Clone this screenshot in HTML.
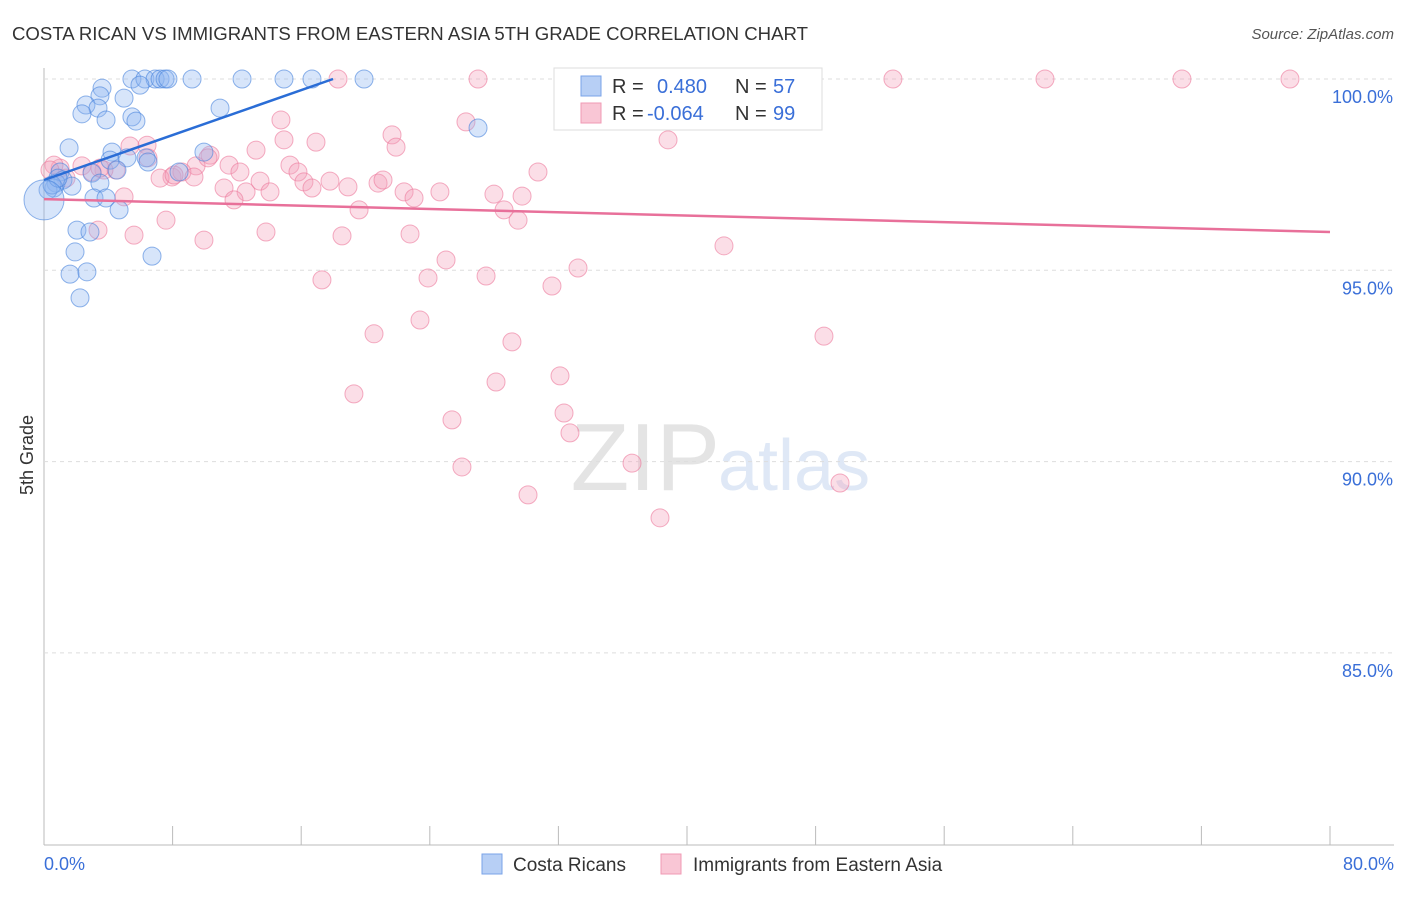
<!DOCTYPE html>
<html><head><meta charset="utf-8"><style>
body{margin:0;background:#fff;font-family:"Liberation Sans",sans-serif}
svg text{font-family:"Liberation Sans",sans-serif}
</style></head><body>
<svg id="c" width="1406" height="892" xmlns="http://www.w3.org/2000/svg">
<text x="12" y="40" font-size="18" fill="#333" textLength="796" lengthAdjust="spacingAndGlyphs">COSTA RICAN VS IMMIGRANTS FROM EASTERN ASIA 5TH GRADE CORRELATION CHART</text>
<text x="1394" y="39" font-size="15" fill="#555" text-anchor="end" font-style="italic">Source: ZipAtlas.com</text>
<text transform="translate(33,455) rotate(-90)" font-size="18" fill="#333" text-anchor="middle">5th Grade</text>
<text x="720" y="490" font-size="96" fill="#e4e4e4" text-anchor="end" font-family="Liberation Serif">ZIP</text>
<text x="718" y="490" font-size="72" fill="#dfe8f6">atlas</text>
<g id="grid"></g><g id="pts"></g><g id="lines"></g>
<g>
<rect x="554" y="68" width="268" height="62" fill="#fff" stroke="#ddd"/>
<rect x="581" y="76" width="20" height="20" fill="#b7cff5" stroke="#7aa3e8"/>
<rect x="581" y="103" width="20" height="20" fill="#f9c6d5" stroke="#f09ab4"/>
<text x="612" y="93" font-size="20" fill="#333">R =</text><text x="657" y="93" font-size="20" fill="#3a6fd8">0.480</text>
<text x="735" y="93" font-size="20" fill="#333">N =</text><text x="773" y="93" font-size="20" fill="#3a6fd8">57</text>
<text x="612" y="120" font-size="20" fill="#333">R =</text><text x="647" y="120" font-size="20" fill="#3a6fd8">-0.064</text>
<text x="735" y="120" font-size="20" fill="#333">N =</text><text x="773" y="120" font-size="20" fill="#3a6fd8">99</text>
</g>
<g>
<rect x="482" y="854" width="20" height="20" fill="#b7cff5" stroke="#7aa3e8"/>
<text x="513" y="871" font-size="19" fill="#333">Costa Ricans</text>
<rect x="661" y="854" width="20" height="20" fill="#f9c6d5" stroke="#f09ab4"/>
<text x="693" y="871" font-size="19" fill="#333">Immigrants from Eastern Asia</text>
</g>
</svg>
<script>
const yTicks=[100,95,90,85];
const yTickLabels=["100.0%","95.0%","90.0%","85.0%"];
const xTickLabels=["0.0%","80.0%"];
const blueX=[5.47,6.28,6.91,7.22,7.53,7.71,9.21,12.32,14.93,16.67,19.91,5.97,3.61,3.48,4.98,2.61,3.36,2.36,3.86,5.47,5.72,10.95,27.0,1.56,4.23,5.16,6.35,6.47,4.11,9.95,8.40,2.99,4.54,1.0,1.18,0.75,0.62,1.74,3.48,3.11,3.86,4.67,2.05,2.86,1.93,6.72,1.62,2.67,2.24,0.25,0.5,0.87,0];
const blueY=[100,100,100,100,100,100,100,100,100,100,100,99.84,99.76,99.56,99.5,99.32,99.24,99.09,98.93,99.01,98.9,99.24,98.72,98.2,98.09,97.94,97.94,97.83,97.88,98.09,97.57,97.54,97.62,97.57,97.36,97.28,97.15,97.2,97.28,96.89,96.89,96.58,96.05,96.0,95.48,95.37,94.9,94.96,94.28,97.1,97.23,97.41,96.84];
const pinkX=[18.29,27.0,38.01,43.17,52.81,62.27,70.79,77.51,38.94,38.82,14.74,21.65,26.25,21.9,16.92,14.93,6.41,5.35,13.19,10.33,11.51,9.46,10.2,12.19,6.47,7.96,8.58,7.22,8.09,4.48,3.73,2.36,1.0,0.62,1.37,2.99,9.33,11.2,12.57,11.82,13.44,14.06,15.3,15.8,16.17,16.67,17.79,18.91,20.78,21.09,22.4,23.02,24.63,27.99,29.74,30.73,28.62,29.49,19.6,4.98,5.6,3.36,7.59,9.95,13.81,18.54,22.77,42.3,25.01,27.5,23.89,17.29,31.6,33.22,23.39,20.53,29.11,48.52,32.1,28.12,19.28,25.38,32.35,32.72,26.0,36.58,49.52,30.11,38.32,0.37,3.48];
const pinkY=[100,100,100,100,100,100,100,100,100,98.41,98.93,98.54,98.88,98.22,98.35,98.41,98.27,98.25,98.14,98.01,97.75,97.73,97.94,97.57,97.94,97.44,97.57,97.41,97.49,97.62,97.62,97.73,97.67,97.75,97.41,97.57,97.44,97.15,97.05,96.84,97.33,97.05,97.75,97.57,97.31,97.15,97.33,97.18,97.28,97.36,97.05,96.89,97.05,96.99,96.94,97.57,96.58,96.31,96.58,96.92,95.92,96.05,96.31,95.79,96.0,95.9,95.95,95.64,95.27,94.85,94.8,94.75,94.59,95.06,93.7,93.34,93.13,93.28,92.24,92.08,91.77,91.09,91.27,90.75,89.86,89.96,89.44,89.13,88.53,97.62,97.67];
const blueTrendX=[0,17.98], blueTrendY=[97.36,100];
const pinkTrendX=[0,80], pinkTrendY=[96.86,96.0];
const NS="http://www.w3.org/2000/svg";
const X=v=>44+v*1286/80, Y=v=>79+(100-v)*38.26;
function mk(t,a,p){const e=document.createElementNS(NS,t);for(const k in a)e.setAttribute(k,a[k]);p.appendChild(e);return e;}
const g=document.getElementById('grid');
let ax=mk('line',{x1:44,y1:68,x2:44,y2:845,stroke:'#bbb'},g);

let bx=mk('line',{x1:44,y1:845,x2:1394,y2:845,stroke:'#bbb'},g);

yTicks.forEach((t,i)=>{const l=mk('line',{x1:44,x2:1394,y1:Y(t),y2:Y(t),stroke:'#ddd','stroke-dasharray':'4,4'},g);

const tx=mk('text',{x:1393,y:Y(t)+24,'font-size':18,fill:'#3a6fd8','text-anchor':'end'},g);tx.textContent=yTickLabels[i];
});
for(let i=0;i<=10;i++){const l=mk('line',{x1:44+i*128.6,x2:44+i*128.6,y1:826,y2:845,stroke:'#bbb'},g);
}
[[0,'start',44],[1,'end',1394]].forEach(([i,a,x])=>{const t=mk('text',{x:x,y:870,'font-size':18,fill:'#3a6fd8','text-anchor':a},g);t.textContent=xTickLabels[i];
});
const p=document.getElementById('pts');
pinkX.forEach((v,i)=>{const c=mk('circle',{cx:X(v),cy:Y(pinkY[i]),r:9,fill:'rgba(244,160,186,0.35)',stroke:'rgba(236,120,155,0.6)'},p);
});
blueX.forEach((v,i)=>{const c=mk('circle',{cx:X(v),cy:Y(blueY[i]),r:i==blueX.length-1?20:9,fill:'rgba(140,180,240,0.35)',stroke:'rgba(70,130,220,0.6)'},p);
});
const L=document.getElementById('lines');
let b=mk('line',{x1:X(blueTrendX[0]),y1:Y(blueTrendY[0]),x2:X(blueTrendX[1]),y2:Y(blueTrendY[1]),stroke:'#2a6dd6','stroke-width':2.5},L);

let q=mk('line',{x1:X(pinkTrendX[0]),y1:Y(pinkTrendY[0]),x2:X(pinkTrendX[1]),y2:Y(pinkTrendY[1]),stroke:'#e8709a','stroke-width':2.5},L);

</script>
</body></html>
